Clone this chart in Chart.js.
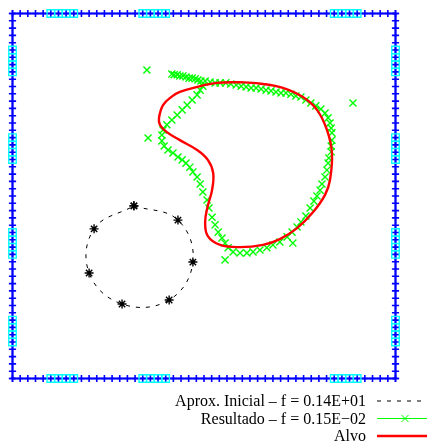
<!DOCTYPE html>
<html>
<head>
<meta charset="utf-8">
<script src="https://cdn.jsdelivr.net/npm/chart.js@4"></script>
<style>
  html, body { margin: 0; padding: 0; background: #fff; }
  #wrap { width: 427px; height: 443px; }
</style>
</head>
<body>
<div id="wrap"><canvas id="mychart"></canvas></div>
<script>
// boundary mesh nodes (50 elements per side, unit square)
const gridTicks = [0, 0.02, 0.04, 0.06, 0.08, 0.10, 0.12, 0.14, 0.16, 0.18,
  0.20, 0.22, 0.24, 0.26, 0.28, 0.30, 0.32, 0.34, 0.36, 0.38,
  0.40, 0.42, 0.44, 0.46, 0.48, 0.50, 0.52, 0.54, 0.56, 0.58,
  0.60, 0.62, 0.64, 0.66, 0.68, 0.70, 0.72, 0.74, 0.76, 0.78,
  0.80, 0.82, 0.84, 0.86, 0.88, 0.90, 0.92, 0.94, 0.96, 0.98, 1.0];

// sensor elements: top/bottom sides and left/right sides
const sensorX = [0.10, 0.12, 0.14, 0.16, 0.34, 0.36, 0.38, 0.40, 0.84, 0.86, 0.88, 0.90];
const sensorY = [0.10, 0.12, 0.14, 0.16, 0.34, 0.36, 0.38, 0.40, 0.60, 0.62, 0.64, 0.66, 0.84, 0.86, 0.88, 0.90];

// initial approximation
const initialX = [0.317, 0.432, 0.471, 0.409, 0.286, 0.200, 0.213];
const initialY = [0.473, 0.434, 0.319, 0.215, 0.204, 0.289, 0.410];

// result
const resultX = [0.416, 0.422, 0.430, 0.437, 0.445, 0.453, 0.461, 0.469, 0.477, 0.484,
  0.492, 0.503, 0.516, 0.529, 0.542, 0.557, 0.570, 0.584, 0.597, 0.610,
  0.623, 0.636, 0.649, 0.662, 0.675, 0.688, 0.701, 0.714, 0.727, 0.740,
  0.753, 0.766, 0.779, 0.792, 0.805, 0.816, 0.824, 0.829, 0.832, 0.834,
  0.834, 0.832, 0.832, 0.826, 0.824, 0.821, 0.816, 0.808, 0.803, 0.795,
  0.787, 0.777, 0.766, 0.753, 0.743, 0.730, 0.717, 0.698, 0.680, 0.664,
  0.646, 0.628, 0.612, 0.594, 0.576, 0.563, 0.555, 0.547, 0.537, 0.529,
  0.521, 0.513, 0.508, 0.497, 0.490, 0.482, 0.471, 0.463, 0.453, 0.443,
  0.432, 0.419, 0.406, 0.396, 0.390, 0.390, 0.393, 0.403, 0.416, 0.430,
  0.443, 0.456, 0.469, 0.482, 0.490, 0.497,
  0.351, 0.889, 0.354, 0.555, 0.732];
const resultY = [0.834, 0.832, 0.832, 0.829, 0.829, 0.826, 0.823, 0.823, 0.821, 0.818,
  0.815, 0.815, 0.812, 0.810, 0.810, 0.810, 0.807, 0.804, 0.801, 0.799,
  0.796, 0.796, 0.793, 0.790, 0.788, 0.785, 0.782, 0.782, 0.779, 0.774,
  0.771, 0.763, 0.755, 0.747, 0.738, 0.727, 0.714, 0.700, 0.686, 0.673,
  0.653, 0.637, 0.621, 0.604, 0.590, 0.571, 0.552, 0.533, 0.516, 0.500,
  0.486, 0.467, 0.445, 0.429, 0.415, 0.401, 0.388, 0.374, 0.366, 0.358,
  0.352, 0.347, 0.344, 0.344, 0.347, 0.358, 0.371, 0.385, 0.401, 0.421,
  0.442, 0.467, 0.489, 0.511, 0.533, 0.552, 0.566, 0.579, 0.590, 0.599,
  0.607, 0.618, 0.626, 0.637, 0.651, 0.667, 0.681, 0.695, 0.708, 0.722,
  0.736, 0.749, 0.763, 0.777, 0.790, 0.801,
  0.845, 0.755, 0.659, 0.325, 0.371];

// target
const targetX = [0.594, 0.654, 0.706, 0.758, 0.795, 0.821, 0.834, 0.829, 0.816, 0.785,
  0.743, 0.698, 0.654, 0.594, 0.542, 0.510, 0.503, 0.510, 0.521, 0.524,
  0.510, 0.482, 0.437, 0.403, 0.385, 0.3825, 0.393, 0.414, 0.437, 0.482, 0.534];
const targetY = [0.812, 0.807, 0.796, 0.771, 0.736, 0.681, 0.618, 0.544, 0.503, 0.456,
  0.412, 0.382, 0.366, 0.360, 0.366, 0.390, 0.429, 0.473, 0.516, 0.563,
  0.599, 0.626, 0.653, 0.675, 0.695, 0.714, 0.749, 0.771, 0.785, 0.799, 0.810];

const seriesLabels = ['Aprox. Inicial \u2013 f = 0.14E+01', 'Resultado \u2013 f = 0.15E\u221202', 'Alvo'];

const pts = (xs, ys) => xs.map((x, i) => ({ x: x, y: ys[i] }));
const closed = (xs, ys) => { const p = pts(xs, ys); p.push(p[0]); return p; };

const rev = gridTicks.slice().reverse();
const boundary = [].concat(
  gridTicks.map(t => ({ x: t, y: 1 })),
  rev.map(t => ({ x: 1, y: t })),
  rev.map(t => ({ x: t, y: 0 })),
  gridTicks.map(t => ({ x: 0, y: t }))
);
const sensors = [].concat(
  sensorX.map(t => ({ x: t, y: 1 })),
  sensorX.map(t => ({ x: t, y: 0 })),
  sensorY.map(t => ({ x: 0, y: t })),
  sensorY.map(t => ({ x: 1, y: t }))
);

const cornerLegend = {
  id: 'cornerLegend',
  afterDraw(chart) {
    const ctx = chart.ctx;
    const rows = [401, 418.5, 436];
    ctx.save();
    ctx.font = '16px "Liberation Serif", "DejaVu Serif", serif';
    ctx.textAlign = 'right';
    ctx.textBaseline = 'middle';
    for (let i = 0; i < 3; i++) {
      const ds = chart.data.datasets[i];
      const y = rows[i];
      ctx.fillStyle = '#000';
      ctx.fillText(ds.label, 366, y + 1);
      ctx.strokeStyle = ds.showLine ? ds.borderColor : ds.pointBorderColor;
      ctx.lineWidth = ds.showLine ? ds.borderWidth : 1;
      ctx.setLineDash(ds.borderDash || []);
      ctx.beginPath();
      ctx.moveTo(377, y);
      ctx.lineTo(427, y);
      ctx.stroke();
      ctx.setLineDash([]);
      if (ds.pointStyle === 'crossRot') {
        const r = 3.5;
        ctx.beginPath();
        ctx.moveTo(405 - r, y - r); ctx.lineTo(405 + r, y + r);
        ctx.moveTo(405 - r, y + r); ctx.lineTo(405 + r, y - r);
        ctx.stroke();
      }
    }
    ctx.restore();
  }
};

const ctx = document.getElementById('mychart').getContext('2d');
let myChart = new Chart(ctx, {
  type: 'scatter',
  data: {
    datasets: [
      {
        label: seriesLabels[0],
        data: closed(initialX, initialY),
        showLine: true,
        tension: 0.4,
        borderColor: '#000',
        borderWidth: 1,
        borderDash: [4, 6],
        pointStyle: 'star',
        pointRadius: 4.5,
        pointBorderColor: '#000',
        pointBorderWidth: 1.4,
        order: 2,
        clip: false
      },
      {
        label: seriesLabels[1],
        data: pts(resultX, resultY),
        showLine: false,
        borderColor: '#00ff00',
        borderWidth: 1,
        pointStyle: 'crossRot',
        pointRadius: 5,
        pointBorderColor: '#00ff00',
        pointBorderWidth: 1.4,
        order: 1,
        clip: false
      },
      {
        label: seriesLabels[2],
        data: closed(targetX, targetY),
        showLine: true,
        tension: 0.4,
        borderColor: '#ff0000',
        borderWidth: 2.4,
        pointRadius: 0,
        order: 0,
        clip: false
      },
      {
        data: sensors,
        showLine: false,
        pointStyle: 'rect',
        pointRadius: 5.3,
        pointBorderColor: '#00ffff',
        pointBackgroundColor: 'rgba(0,0,0,0)',
        pointBorderWidth: 1.3,
        order: 3,
        clip: false
      },
      {
        data: boundary,
        showLine: true,
        borderColor: '#0000ff',
        borderWidth: 2,
        pointStyle: 'cross',
        pointRadius: 3.6,
        pointBorderColor: '#0000ff',
        pointBorderWidth: 1.6,
        order: 4,
        clip: false
      }
    ]
  },
  options: {
    responsive: true,
    maintainAspectRatio: false,
    animation: false,
    layout: { padding: { left: 12.5, top: 13.5, right: 31.5, bottom: 64.5 } },
    scales: {
      x: { type: 'linear', min: 0, max: 1, display: false },
      y: { type: 'linear', min: 0, max: 1, display: false }
    },
    plugins: {
      legend: { display: false },
      tooltip: { enabled: false }
    }
  },
  plugins: [cornerLegend]
});
</script>
</body>
</html>
